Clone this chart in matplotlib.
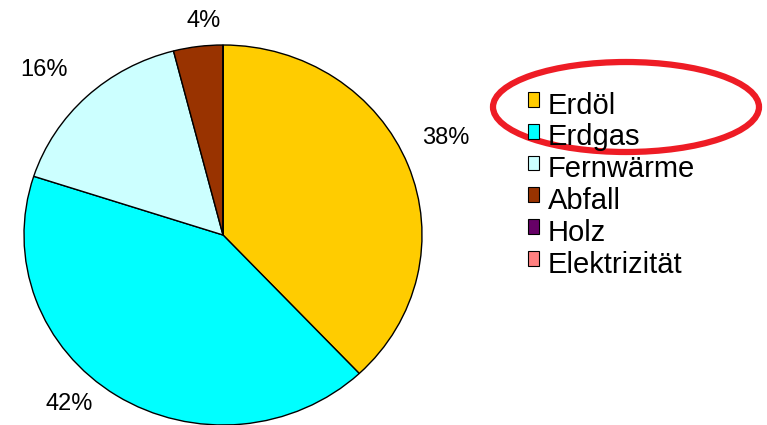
import numpy as np
import matplotlib.pyplot as plt
from matplotlib.patches import Patch, Ellipse, Rectangle
from matplotlib.legend_handler import HandlerPatch

# Energieträger und Anteile (%)
labels = ["Erdöl", "Erdgas", "Fernwärme", "Abfall", "Holz", "Elektrizität"]
values = [38, 42, 16, 4, 0, 0]
colors = ["#FFCC00", "#00FFFF", "#CCFFFF", "#993300", "#660066", "#FF8080"]
# radial distance and angular nudge (deg) of each percentage label
label_dist = [1.23, 1.18, 1.25, 1.13, 1.2, 1.2]
label_turn = [2.9, -8.5, 2.8, -2.3, 0, 0]

plt.rcParams['font.family'] = ['Liberation Sans', 'DejaVu Sans']

fig = plt.figure(figsize=(7.67, 4.25), dpi=100)

# pie area (slightly elliptic like the original)
ax = fig.add_axes([24 / 767, 0.0, 398 / 767, 380 / 425])
wedges, texts, autotexts = ax.pie(
    values, colors=colors, startangle=90, counterclock=False,
    autopct=lambda p: f"{p:.0f}%" if p > 0 else "",
    pctdistance=1.2,
    wedgeprops=dict(edgecolor="black", linewidth=1.0),
    textprops=dict(fontsize=17))
for w, t, d, turn in zip(wedges, autotexts, label_dist, label_turn):
    ang = np.deg2rad((w.theta1 + w.theta2) / 2 + turn)
    t.set_position((d * np.cos(ang), d * np.sin(ang)))
ax.set_aspect('auto')
ax.set_xlim(-1.0, 1.0)
ax.set_ylim(-1.0, 1.0)
ax.axis('off')


# legend squares sit a bit high, as in the original
def square(legend, orig_handle, xdescent, ydescent, width, height, fontsize):
    return Rectangle((-xdescent, -ydescent + 0.25 * height), width, height)


handles = [Patch(facecolor=c, edgecolor="black", linewidth=0.8) for c in colors]
fig.legend(handles, labels, loc='upper left', bbox_to_anchor=(513 / 767, 1 - 77 / 425),
           frameon=False, fontsize=21, handlelength=0.4, handleheight=0.4,
           handletextpad=0.3, labelspacing=0.13, borderpad=0,
           handler_map={Patch: HandlerPatch(patch_func=square)})

# red highlight ellipse around Erdöl / Erdgas
fig.add_artist(Ellipse((626 / 767, 1 - 107 / 425), 266 / 767, 90 / 425,
                       transform=fig.transFigure, fill=False,
                       edgecolor="#EE1C25", linewidth=4.5))

fig.savefig("out.png", dpi=100)
